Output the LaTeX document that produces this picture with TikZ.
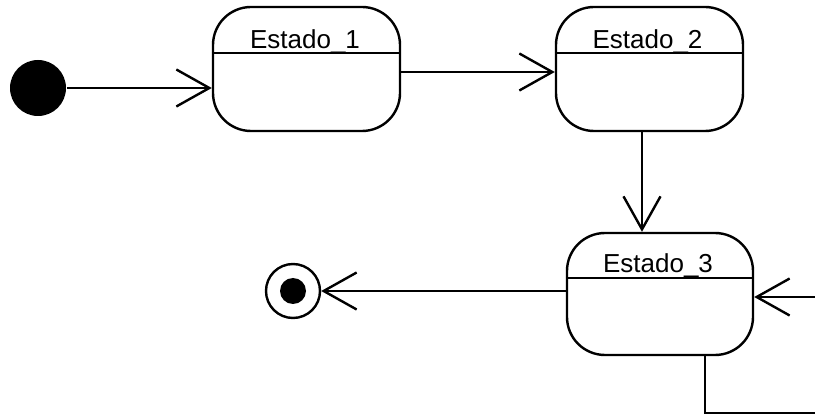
\documentclass[tikz,border=0pt]{standalone}
\usepackage{fontspec}
\setmainfont{Liberation Sans}
\usetikzlibrary{arrows.meta}
\begin{document}
\begin{tikzpicture}[x=1pt,y=-1pt,
  every path/.style={line width=2.4pt},
  statebox/.style={draw, rounded corners=38pt, minimum width=187pt, minimum height=124pt, inner sep=0pt},
  title/.style={anchor=base, font=\fontsize{26}{31}\selectfont, inner sep=0pt},
  tr/.style={-{Straight Barb[length=33pt,width=37pt,line width=2.4pt]}}
]
\useasboundingbox (0,0) rectangle (815,414);
% states
\node[statebox] (s1) at (306.5,69) {};
\node[statebox] (s2) at (649.5,69) {};
\node[statebox, minimum width=186pt, minimum height=122pt] (s3) at (660,294) {};
\node[title] (t1) at (305,49) {Estado\_1};
\node[title] (t2) at (647.5,49) {Estado\_2};
\node[title] (t3) at (658,273) {Estado\_3};
\draw (s1.west |- 0,53) -- (s1.east |- 0,53);
\draw (s2.west |- 0,53) -- (s2.east |- 0,53);
\draw (s3.west |- 0,278) -- (s3.east |- 0,278);
% initial and final
\node[circle, fill=black, minimum size=56pt, inner sep=0pt] (init) at (38,88) {};
\node[circle, draw, minimum size=54pt, inner sep=0pt] (fin) at (293,291) {};
\node[circle, fill=black, minimum size=26pt, inner sep=0pt] (fdot) at (fin.center) {};
% transitions
\draw[tr] (init.east) -- (s1.west |- init.east);
\draw[tr] (s1.east |- 0,72) -- (s2.west |- 0,72);
\draw[tr] (s2.south -| 642,0) -- (s3.north -| 642,0);
\draw[tr] (s3.west |- fin.east) -- (fin.east);
\coordinate (rin) at (815,297);
\draw[tr] (rin) -- (s3.east |- rin);
\coordinate (bc) at (705,413);
\coordinate (br) at (815,413);
\draw (s3.south -| bc) -- (bc) -- (br);
\end{tikzpicture}
\end{document}
